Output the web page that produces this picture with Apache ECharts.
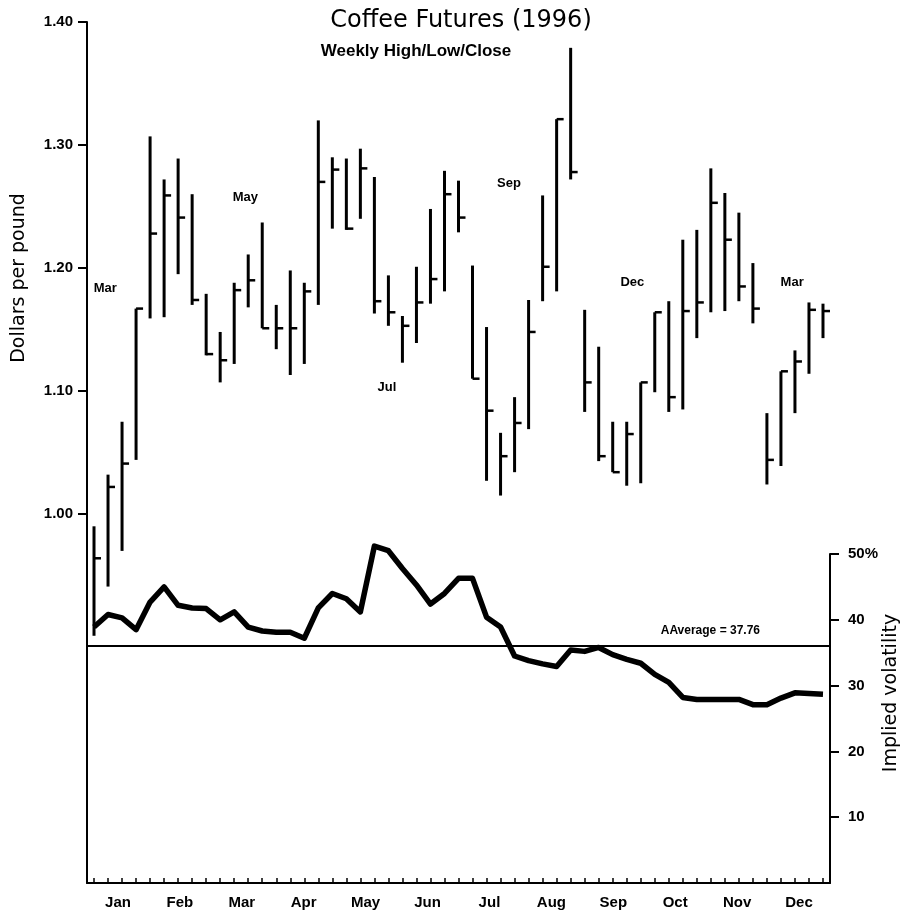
<!DOCTYPE html>
<html>
<head>
<meta charset="utf-8">
<title>Coffee Futures (1996)</title>
<script src="https://cdn.jsdelivr.net/npm/echarts@6/dist/echarts.min.js"></script>
<style>
  html, body { margin: 0; padding: 0; background: #fff; }
  #main { width: 903px; height: 917px; }
</style>
</head>
<body>
<div id="main"></div>
<script>
// weekly high / low / close, dollars per pound (53 weeks of 1996)
var high = [0.990, 1.032, 1.075, 1.167, 1.307, 1.272, 1.289, 1.260, 1.179, 1.148,
  1.188, 1.211, 1.237, 1.170, 1.198, 1.188, 1.320, 1.290, 1.289, 1.297,
  1.274, 1.194, 1.161, 1.201, 1.248, 1.279, 1.271, 1.202, 1.152, 1.066,
  1.095, 1.174, 1.259, 1.321, 1.379, 1.166, 1.136, 1.075, 1.075, 1.107,
  1.164, 1.173, 1.223, 1.231, 1.281, 1.261, 1.245, 1.204, 1.082, 1.116,
  1.133, 1.172, 1.171];
var low = [0.901, 0.941, 0.970, 1.044, 1.159, 1.160, 1.195, 1.170, 1.129, 1.107,
  1.122, 1.168, 1.151, 1.134, 1.113, 1.122, 1.170, 1.232, 1.231, 1.240,
  1.163, 1.153, 1.123, 1.139, 1.171, 1.181, 1.229, 1.110, 1.027, 1.015,
  1.034, 1.069, 1.173, 1.181, 1.272, 1.083, 1.043, 1.034, 1.023, 1.025,
  1.099, 1.083, 1.085, 1.143, 1.164, 1.165, 1.173, 1.155, 1.024, 1.039,
  1.082, 1.114, 1.143];
var close = [0.964, 1.022, 1.041, 1.167, 1.228, 1.259, 1.241, 1.174, 1.130, 1.125,
  1.182, 1.190, 1.151, 1.151, 1.151, 1.181, 1.270, 1.280, 1.232, 1.281,
  1.173, 1.164, 1.153, 1.172, 1.191, 1.260, 1.241, 1.110, 1.084, 1.047,
  1.074, 1.148, 1.201, 1.321, 1.278, 1.107, 1.047, 1.034, 1.065, 1.107,
  1.164, 1.095, 1.165, 1.172, 1.253, 1.223, 1.185, 1.167, 1.044, 1.116,
  1.124, 1.166, 1.165];

// implied volatility, percent
var volatility = [38.9, 40.8, 40.3, 38.5, 42.7, 45.0, 42.2, 41.8, 41.7, 40.0,
  41.2, 38.9, 38.3, 38.1, 38.1, 37.2, 41.8, 44.0, 43.2, 41.2,
  51.2, 50.5, 47.8, 45.3, 42.4, 44.0, 46.3, 46.3, 40.4, 38.9,
  34.5, 33.8, 33.3, 32.9, 35.4, 35.2, 35.8, 34.7, 34.0, 33.4,
  31.7, 30.5, 28.2, 27.9, 27.9, 27.9, 27.9, 27.1, 27.1, 28.1,
  28.9, 28.8, 28.7];
var avgLine = 36.0;
var avgText = 'AAverage = 37.76';

var months = ['Jan', 'Feb', 'Mar', 'Apr', 'May', 'Jun', 'Jul', 'Aug', 'Sep', 'Oct', 'Nov', 'Dec'];
var priceTicks = [1.00, 1.10, 1.20, 1.30, 1.40];

// contract month labels: [week, price, name]
var contracts = [
  [0.8, 1.183, 'Mar'],
  [10.8, 1.257, 'May'],
  [20.9, 1.103, 'Jul'],
  [29.6, 1.269, 'Sep'],
  [38.4, 1.188, 'Dec'],
  [49.8, 1.188, 'Mar']
];

var weeks = high.map(function (v, i) { return i; });
var hlc = high.map(function (v, i) { return [i, high[i], low[i], close[i]]; });
var volData = volatility.map(function (v, i) { return [i, v]; });

var font = 'Liberation Sans, Arial, Helvetica, sans-serif';

var chartDom = document.getElementById('main');
var myChart = echarts.init(chartDom, null, { renderer: 'canvas' });
var option;

option = {
  backgroundColor: '#fff',
  animation: false,
  title: [
    {
      text: 'Coffee Futures (1996)',
      left: 461,
      top: 9,
      padding: 0,
      textAlign: 'center',
      textStyle: { fontFamily: 'DejaVu Sans', fontSize: 24, fontWeight: 'normal', color: '#000' }
    },
    {
      text: 'Weekly High/Low/Close',
      left: 416,
      top: 43,
      padding: 0,
      textAlign: 'center',
      textStyle: { fontFamily: font, fontSize: 17, fontWeight: 'bold', color: '#000' }
    }
  ],
  graphic: [
    {
      type: 'text', x: 19, y: 278, rotation: Math.PI / 2,
      style: { text: 'Dollars per pound', fontFamily: 'DejaVu Sans', fontSize: 19, fill: '#000', align: 'center', verticalAlign: 'middle' }
    },
    {
      type: 'text', x: 891, y: 693, rotation: Math.PI / 2,
      style: { text: 'Implied volatility', fontFamily: 'DejaVu Sans', fontSize: 19, fill: '#000', align: 'center', verticalAlign: 'middle' }
    }
  ],
  grid: [
    { left: 87, right: 73, top: 22, bottom: 34 },
    { left: 87, right: 73, top: 554, bottom: 34 }
  ],
  xAxis: [
    {
      type: 'value', gridIndex: 0, min: -0.5, max: 52.5,
      splitLine: { show: false },
      axisLine: { onZero: false, lineStyle: { color: '#000', width: 2 } },
      axisTick: { customValues: weeks, inside: true, length: 5, lineStyle: { color: '#000', width: 1.5 } },
      axisLabel: { show: false }
    },
    {
      type: 'category', gridIndex: 0, position: 'bottom', data: months,
      axisLine: { show: false },
      axisTick: { show: false },
      axisLabel: { margin: 12, fontFamily: font, fontSize: 15, fontWeight: 'bold', color: '#000' }
    },
    {
      type: 'value', gridIndex: 1, min: -0.5, max: 52.5, show: false
    }
  ],
  yAxis: [
    {
      type: 'value', gridIndex: 0, min: 0.70, max: 1.40,
      splitLine: { show: false },
      axisLine: { show: true, onZero: false, lineStyle: { color: '#000', width: 2 } },
      axisTick: { customValues: priceTicks, length: 9, lineStyle: { color: '#000', width: 2 } },
      axisLabel: {
        customValues: priceTicks, margin: 14,
        fontFamily: font, fontSize: 15, fontWeight: 'bold', color: '#000',
        formatter: function (v) { return v.toFixed(2); }
      }
    },
    {
      type: 'value', gridIndex: 1, position: 'right', min: 0, max: 50, interval: 10,
      splitLine: { show: false },
      axisLine: { show: true, onZero: false, lineStyle: { color: '#000', width: 2 } },
      axisTick: { length: 9, lineStyle: { color: '#000', width: 2 } },
      axisLabel: {
        showMinLabel: false, margin: 18,
        fontFamily: font, fontSize: 15, fontWeight: 'bold', color: '#000',
        formatter: function (v) { return v === 50 ? '50%' : String(v); }
      }
    }
  ],
  series: [
    {
      name: 'HLC',
      type: 'custom',
      xAxisIndex: 0,
      yAxisIndex: 0,
      data: hlc,
      encode: { x: 0, y: [1, 2, 3] },
      renderItem: function (params, api) {
        var x = api.value(0);
        var hi = api.coord([x, api.value(1)]);
        var lo = api.coord([x, api.value(2)]);
        var cl = api.coord([x, api.value(3)]);
        return {
          type: 'group',
          children: [
            { type: 'line', shape: { x1: hi[0], y1: hi[1], x2: lo[0], y2: lo[1] }, style: { stroke: '#000', lineWidth: 3 } },
            { type: 'line', shape: { x1: cl[0], y1: cl[1], x2: cl[0] + 7, y2: cl[1] }, style: { stroke: '#000', lineWidth: 2.5 } }
          ]
        };
      }
    },
    {
      name: 'Contracts',
      type: 'scatter',
      xAxisIndex: 0,
      yAxisIndex: 0,
      symbolSize: 0,
      itemStyle: { opacity: 1 },
      data: contracts,
      label: {
        show: true, position: 'inside', opacity: 1,
        fontFamily: font, fontSize: 13, fontWeight: 'bold', color: '#000',
        formatter: function (p) { return p.data[2]; }
      }
    },
    {
      name: 'Implied volatility',
      type: 'line',
      xAxisIndex: 2,
      yAxisIndex: 1,
      data: volData,
      clip: false,
      showSymbol: false,
      lineStyle: { color: '#000', width: 5.5, join: 'round' },
      markLine: {
        silent: true,
        symbol: 'none',
        lineStyle: { color: '#000', width: 2, type: 'solid' },
        label: {
          show: true, position: 'insideEndTop', distance: [70, 9],
          formatter: avgText,
          fontFamily: font, fontSize: 12, fontWeight: 'bold', color: '#000'
        },
        data: [{ yAxis: avgLine }]
      }
    }
  ]
};

option && myChart.setOption(option);
</script>
</body>
</html>
